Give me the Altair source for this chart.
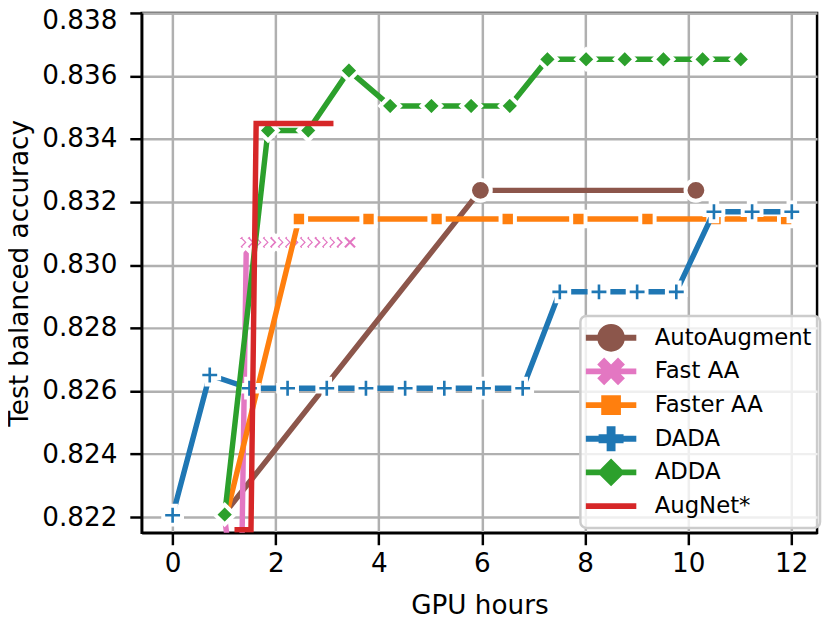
import altair as alt
import pandas as pd

methods = ["AutoAugment", "Fast AA", "Faster AA", "DADA", "ADDA", "AugNet*"]
colors = ["#8c564b", "#e377c2", "#ff7f0e", "#1f77b4", "#2ca02c", "#d62728"]

x_ticks = [0, 2, 4, 6, 8, 10, 12]
y_ticks = [0.822, 0.824, 0.826, 0.828, 0.830, 0.832, 0.834, 0.836, 0.838]

aa_x = [1.0, 5.97, 10.15]
aa_y = [0.8221, 0.83237, 0.83237]
aa_m = [0, 1, 1]

fast_x = [1.0, 1.2, 1.33, 1.43, 1.57, 1.72, 1.86, 2.00, 2.15, 2.29, 2.43,
          2.58, 2.72, 2.86, 3.01, 3.15, 3.29, 3.44]
fast_y = [0.8221, 0.8195, 0.8195, 0.83072, 0.83072, 0.83072, 0.83072, 0.83072,
          0.83072, 0.83072, 0.83072, 0.83072, 0.83072, 0.83072, 0.83072,
          0.83072, 0.83072, 0.83072]
fast_m = [0, 0, 0, 1, 1, 1, 1, 1, 1, 1, 1, 1, 1, 1, 1, 1, 1, 1]

faster_x = [1.05, 2.45, 3.8, 5.12, 6.5, 7.87, 9.21, 10.53, 11.9]
faster_y = [0.8221, 0.83146, 0.83146, 0.83146, 0.83146, 0.83146, 0.83146,
            0.83146, 0.83146]
faster_m = [0, 1, 1, 1, 1, 1, 1, 1, 1]

dada_x = [0.0, 0.72, 1.49, 2.23, 2.99, 3.75, 4.51, 5.27, 6.03, 6.79, 7.51,
          8.27, 9.01, 9.77, 10.5, 11.24, 12.01]
dada_y = [0.82206, 0.82651, 0.82609, 0.82609, 0.82609, 0.82609, 0.82609,
          0.82609, 0.82609, 0.82609, 0.82915, 0.82915, 0.82915, 0.82915,
          0.83169, 0.83169, 0.83169]
dada_m = [1, 1, 1, 1, 1, 1, 1, 1, 1, 1, 1, 1, 1, 1, 1, 1, 1]

adda_x = [1.01, 1.85, 2.63, 3.42, 4.22, 5.02, 5.79, 6.54, 7.27, 8.02, 8.77,
          9.52, 10.28, 11.02]
adda_y = [0.82208, 0.83427, 0.83427, 0.83617, 0.83505, 0.83505, 0.83505,
          0.83505, 0.83653, 0.83653, 0.83653, 0.83653, 0.83653, 0.83653]
adda_m = [1, 1, 1, 1, 1, 1, 1, 1, 1, 1, 1, 1, 1, 1]

augnet_x = [1.2, 1.52, 1.62, 3.12]
augnet_y = [0.8216, 0.8216, 0.83449, 0.83449]
augnet_m = [0, 0, 0, 0]

series = [
    ("AutoAugment", aa_x, aa_y, aa_m),
    ("Fast AA", fast_x, fast_y, fast_m),
    ("Faster AA", faster_x, faster_y, faster_m),
    ("DADA", dada_x, dada_y, dada_m),
    ("ADDA", adda_x, adda_y, adda_m),
    ("AugNet*", augnet_x, augnet_y, augnet_m),
]

rows = []
for name, xs, ys, ms in series:
    for i, (xv, yv, mv) in enumerate(zip(xs, ys, ms)):
        rows.append({"method": name, "x": xv, "y": yv, "marker": mv, "i": i})
df = pd.DataFrame(rows)

# marker shapes (style)
MPL_X = ("M-0.5,-1L0,-0.5L0.5,-1L1,-0.5L0.5,0L1,0.5L0.5,1L0,0.5L-0.5,1"
         "L-1,0.5L-0.5,0L-1,-0.5Z")
PLUS_PATH = "M-0.35,-1H0.35V-0.35H1V0.35H0.35V1H-0.35V0.35H-1V-0.35H-0.35Z"
plot_shape = {"AutoAugment": ("circle", 440), "Fast AA": (MPL_X, 300),
              "Faster AA": ("square", 210), "DADA": (PLUS_PATH, 361),
              "ADDA": ("diamond", 400)}

# legend glyphs: line bar + marker; invisible spine keeps every row equally tall
SPINE = "M0,-1L0,1L0,-1Z"
BAR = "M-1.82,-0.21H1.82V0.21H-1.82Z"
LEG_CIRCLE = ("M1,0C1,0.5523 0.5523,1 0,1C-0.5523,1 -1,0.5523 -1,0"
              "C-1,-0.5523 -0.5523,-1 0,-1C0.5523,-1 1,-0.5523 1,0Z")
LEG_SQUARE = "M-0.71,-0.71H0.71V0.71H-0.71Z"
LEG_PLUS = "M-0.32,-0.9H0.32V-0.32H0.9V0.32H0.32V0.9H-0.32V0.32H-0.9V-0.32H-0.32Z"
LEG_DIAMOND = "M0,-1L1,0L0,1L-1,0Z"
legend_paths = [SPINE + BAR + LEG_CIRCLE, SPINE + BAR + MPL_X,
                SPINE + BAR + LEG_SQUARE, SPINE + BAR + LEG_PLUS,
                SPINE + BAR + LEG_DIAMOND, SPINE + BAR]

FONT = "DejaVu Sans"
FS = 26.5

xenc = alt.X("x:Q",
             scale=alt.Scale(domain=[-0.6, 12.5], nice=False, zero=False),
             axis=alt.Axis(values=x_ticks, title="GPU hours", labelFlush=False,
                           tickSize=12, tickWidth=2.5, tickColor="black",
                           domainColor="black", domainWidth=2.5,
                           labelFont=FONT, labelFontSize=FS, labelColor="black",
                           labelPadding=6, grid=True, gridColor="#b0b0b0",
                           gridWidth=2.5, titleFont=FONT, titleFontSize=FS,
                           titleFontWeight="normal", titleColor="black",
                           titleY=81, titleBaseline="alphabetic"))
yenc = alt.Y("y:Q",
             scale=alt.Scale(domain=[0.8215, 0.838], nice=False, zero=False),
             axis=alt.Axis(values=y_ticks, format=".3f",
                           title="Test balanced accuracy",
                           tickSize=12, tickWidth=2.5, tickColor="black",
                           domainColor="black", domainWidth=2.5,
                           labelFont=FONT, labelFontSize=FS, labelColor="black",
                           labelPadding=13, grid=True, gridColor="#b0b0b0",
                           gridWidth=2.5, titleFont=FONT, titleFontSize=FS,
                           titleFontWeight="normal", titleColor="black",
                           titleX=-115, titleBaseline="alphabetic",
                           labelOffset={"condition": {"test": "datum.value > 0.8375",
                                                      "value": 8},
                                        "value": 0}))

base = alt.Chart(df)
layers = []
for name, col in zip(methods, colors):
    line = base.transform_filter(alt.datum.method == name).mark_line(
        strokeWidth=5.5, clip=True, color=col).encode(x=xenc, y=yenc,
                                                      order="i:Q")
    layers.append(line)
    if name in plot_shape:
        shp, sz = plot_shape[name]
        pts = base.transform_filter(
            (alt.datum.method == name) & (alt.datum.marker == 1)
        ).mark_point(filled=True, shape=shp, size=sz, fill=col, stroke="white",
                     strokeWidth=4, opacity=1, clip=True).encode(
            x=xenc, y=yenc)
        layers.append(pts)

leg = alt.Legend(title=None, orient="none", legendX=443, legendY=306,
                 symbolSize=784, symbolOpacity=1, symbolStrokeWidth=0,
                 symbolOffset=9,
                 labelFont=FONT, labelFontSize=23, labelColor="black",
                 labelOffset=30, rowPadding=6, padding=8,
                 strokeColor="#cccccc", cornerRadius=6,
                 fillColor="rgba(255,255,255,0.8)")
legend_layer = base.transform_filter(alt.datum.x > 100).mark_point(
    filled=True, opacity=1, clip=True).encode(
    x=xenc, y=yenc,
    fill=alt.Fill("method:N", scale=alt.Scale(domain=methods, range=colors),
                  legend=leg),
    shape=alt.Shape("method:N", scale=alt.Scale(domain=methods,
                                                range=legend_paths),
                    legend=leg),
)
layers.append(legend_layer)

chart = alt.layer(*layers).properties(
    width=682, height=525,
    padding={"left": 135, "top": 2, "right": 6, "bottom": 86},
    autosize=alt.AutoSizeParams(type="none"),
).configure_view(stroke="black", strokeWidth=2.5).configure_legend(
    strokeWidth=2.5)

chart.save("out.html", embed_options={"renderer": "svg", "actions": False})
